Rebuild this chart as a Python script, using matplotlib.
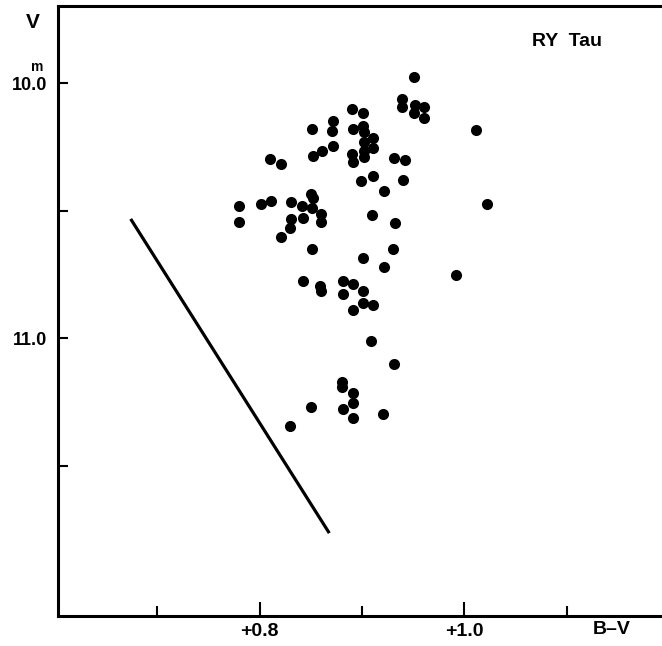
import matplotlib
matplotlib.use("Agg")
import matplotlib.pyplot as plt

# B-V colour and V magnitude of RY Tau
bv = [0.951, 0.939, 0.939, 0.952, 0.961, 0.951, 0.961, 0.890, 0.901, 1.011,
      0.851, 0.872, 0.871, 0.891, 0.901, 0.902, 0.911, 0.902, 0.911, 0.872,
      0.861, 0.852, 0.890, 0.902, 0.902, 0.891, 0.931, 0.942, 0.810, 0.821,
      0.899, 0.911, 0.940, 0.921, 1.022, 0.780, 0.780, 0.801, 0.811, 0.831,
      0.850, 0.852, 0.841, 0.851, 0.860, 0.860, 0.831, 0.830, 0.842, 0.821,
      0.910, 0.932, 0.851, 0.930, 0.901, 0.921, 0.992, 0.842, 0.859, 0.860,
      0.881, 0.891, 0.901, 0.881, 0.901, 0.911, 0.891, 0.909, 0.931, 0.880,
      0.880, 0.891, 0.891, 0.850, 0.881, 0.891, 0.920, 0.830]
vmag = [9.978, 10.064, 10.093, 10.086, 10.093, 10.116, 10.136, 10.102, 10.118, 10.184,
        10.180, 10.150, 10.189, 10.180, 10.167, 10.191, 10.215, 10.230, 10.254, 10.246,
        10.267, 10.286, 10.277, 10.265, 10.291, 10.310, 10.295, 10.301, 10.299, 10.318,
        10.385, 10.364, 10.379, 10.425, 10.475, 10.481, 10.545, 10.475, 10.464, 10.467,
        10.436, 10.452, 10.482, 10.489, 10.514, 10.546, 10.535, 10.567, 10.528, 10.604,
        10.518, 10.549, 10.651, 10.649, 10.688, 10.720, 10.752, 10.775, 10.796, 10.815,
        10.775, 10.787, 10.816, 10.827, 10.864, 10.872, 10.890, 11.011, 11.103, 11.171,
        11.191, 11.216, 11.255, 11.272, 11.280, 11.314, 11.297, 11.344]

# reddening line
line_bv = [0.674, 0.868]
line_v = [10.533, 11.765]

font = ['Liberation Sans', 'DejaVu Sans']

fig = plt.figure(figsize=(6.62, 6.46), dpi=100)
ax = fig.add_axes([58 / 662, 1 - 616 / 646, 1 - 58 / 662, 610 / 646])

ax.plot(bv, vmag, 'o', color='black', markersize=8, markeredgewidth=0)
ax.plot(line_bv, line_v, color='black', linewidth=2.3, solid_capstyle='butt')

ax.set_xlim(0.603, 1.193)
ax.set_ylim(12.09, 9.698)

ax.spines['right'].set_visible(False)
for s in ['left', 'bottom', 'top']:
    ax.spines[s].set_linewidth(2.2)

ax.set_xticks([0.8, 1.0])
ax.set_xticklabels(['+0.8', '+1.0'])
ax.set_xticks([0.7, 0.9, 1.1], minor=True)
ax.set_yticks([10.0, 11.0])
ax.set_yticklabels(['10.0', '11.0'])
ax.set_yticks([10.5, 11.5], minor=True)

ax.tick_params(axis='x', which='major', direction='in', length=10, width=1.5, pad=5)
ax.tick_params(axis='x', which='minor', direction='in', length=7, width=1.5)
ax.tick_params(axis='y', which='both', direction='in', length=7, width=1.5, pad=8)
ax.tick_params(top=False, right=False)
for lab in ax.get_xticklabels():
    lab.set_family(font)
    lab.set_fontsize(14)
    lab.set_fontweight('bold')
for lab in ax.get_yticklabels():
    lab.set_family(font)
    lab.set_fontsize(13)
    lab.set_fontweight('bold')

fig.text(33 / 662, 1 - 22 / 646, 'V', family=font, fontsize=15, fontweight='bold',
         ha='center', va='center')
fig.text(37 / 662, 1 - 67 / 646, 'm', family=font, fontsize=10, fontweight='bold',
         ha='center', va='center')
fig.text(567 / 662, 1 - 42 / 646, 'RY  Tau', family=font, fontsize=14, fontweight='bold',
         ha='center', va='center')
fig.text(612 / 662, 1 - 630 / 646, 'B\u2013V', family=font, fontsize=14, fontweight='bold',
         ha='center', va='center')

fig.savefig('out.png', dpi=100)
